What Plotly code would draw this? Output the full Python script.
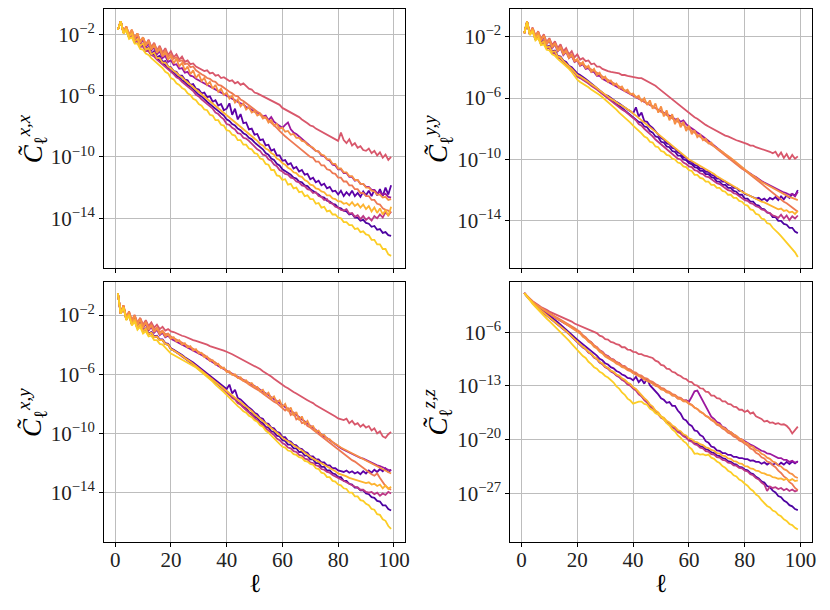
import plotly.graph_objects as go

# log10(C_l), l = 1..99, one list per curve
# panel C^{x,x}
xx_i1 = [-1.7, -1.15, -1.9, -1.65, -2.2, -2.0, -2.45, -2.3, -2.7, -2.6,
         -2.95, -2.85, -3.25, -3.1, -3.5, -3.4, -3.8, -3.75, -4.1, -4.15,
         -4.4, -4.45, -4.7, -4.7, -4.95, -5.0, -5.3, -5.25, -5.55, -5.6,
         -5.85, -5.8, -6.1, -6.05, -6.4, -6.3, -6.65, -6.55, -6.95, -6.85,
         -6.5, -7.25, -6.85, -7.55, -7.2, -7.8, -7.75, -8.2, -8.15, -8.55,
         -8.5, -8.9, -8.85, -9.25, -9.2, -9.6, -9.5, -9.9, -9.9, -10.25,
         -10.2, -10.5, -10.4, -10.75, -10.65, -10.95, -10.85, -11.15, -11.1, -11.45,
         -11.35, -11.65, -11.55, -11.85, -11.75, -12.05, -11.95, -12.25, -12.2, -12.45,
         -12.2, -12.55, -12.3, -12.5, -12.2, -12.55, -12.35, -12.6, -12.25, -12.5,
         -12.2, -12.55, -12.15, -12.5, -12.1, -12.55, -12.0, -12.45, -11.85]
xx_i2 = [-1.7, -1.15, -1.9, -1.7, -2.2, -2.1, -2.5, -2.45, -2.8, -2.75,
         -3.05, -3.05, -3.35, -3.3, -3.6, -3.7, -3.9, -4.0, -4.2, -4.4,
         -4.5, -4.7, -4.8, -5.0, -5.1, -5.3, -5.4, -5.6, -5.75, -5.95,
         -6.05, -6.25, -6.4, -6.55, -6.7, -6.9, -7.0, -7.2, -7.3, -7.55,
         -7.65, -7.85, -7.95, -8.15, -8.25, -8.45, -8.55, -8.75, -8.85, -9.05,
         -9.2, -9.4, -9.5, -9.75, -9.85, -10.1, -10.2, -10.45, -10.55, -10.8,
         -10.9, -11.05, -11.15, -11.35, -11.4, -11.6, -11.65, -11.85, -11.9, -12.1,
         -12.2, -12.35, -12.45, -12.6, -12.65, -12.85, -12.9, -13.05, -13.1, -13.3,
         -13.35, -13.5, -13.55, -13.75, -13.7, -13.95, -13.95, -14.15, -14.1, -14.3,
         -14.35, -14.55, -14.5, -14.75, -14.7, -14.95, -14.9, -15.1, -15.15]
xx_p = [-1.7, -1.15, -1.9, -1.6, -2.15, -1.85, -2.4, -2.1, -2.6, -2.35,
        -2.85, -2.6, -3.05, -2.85, -3.3, -3.1, -3.55, -3.4, -3.8, -3.7,
        -4.0, -3.95, -4.25, -4.2, -4.5, -4.45, -4.7, -4.75, -4.9, -5.0,
        -5.1, -5.15, -5.3, -5.35, -5.5, -5.55, -5.65, -5.8, -5.85, -6.0,
        -6.1, -6.2, -6.3, -6.4, -6.5, -6.55, -6.75, -6.8, -6.95, -7.05,
        -7.1, -7.25, -7.35, -7.3, -7.6, -7.4, -7.7, -7.85, -7.95, -8.1,
        -7.9, -7.75, -8.2, -8.4, -8.5, -8.65, -8.8, -8.95, -9.1, -9.3,
        -9.4, -9.6, -9.65, -9.9, -9.95, -10.15, -10.25, -10.5, -10.55, -10.8,
        -10.8, -11.05, -11.05, -11.3, -11.3, -11.55, -11.5, -11.75, -11.75, -11.95,
        -11.95, -12.15, -12.15, -12.35, -12.3, -12.45, -12.4, -12.6, -12.65]
xx_m = [-1.7, -1.15, -1.9, -1.65, -2.2, -2.05, -2.5, -2.45, -2.8, -2.8,
        -3.1, -3.1, -3.35, -3.45, -3.65, -3.8, -3.95, -4.1, -4.3, -4.45,
        -4.6, -4.8, -4.9, -5.1, -5.25, -5.4, -5.6, -5.7, -5.95, -6.05,
        -6.25, -6.4, -6.55, -6.75, -6.85, -7.1, -7.2, -7.4, -7.55, -7.85,
        -7.9, -8.1, -8.2, -8.45, -8.5, -8.75, -8.8, -8.95, -9.15, -9.3,
        -9.5, -9.6, -9.85, -9.9, -10.15, -10.25, -10.5, -10.6, -10.85, -10.95,
        -11.1, -11.15, -11.35, -11.4, -11.6, -11.65, -11.85, -11.9, -12.1, -12.15,
        -12.35, -12.3, -12.55, -12.6, -12.8, -12.75, -13.0, -13.05, -13.25, -13.3,
        -13.45, -13.5, -13.4, -13.7, -13.65, -13.9, -13.8, -14.05, -13.85, -14.1,
        -13.95, -14.15, -13.85, -14.0, -13.75, -13.95, -13.6, -13.8, -13.55]
xx_d = [-1.7, -1.15, -1.85, -1.5, -2.05, -1.75, -2.3, -1.95, -2.5, -2.2,
        -2.7, -2.35, -2.85, -2.55, -3.05, -2.75, -3.2, -2.9, -3.35, -3.1,
        -3.5, -3.3, -3.65, -3.45, -3.8, -3.7, -3.95, -3.9, -4.1, -4.2,
        -4.25, -4.4, -4.35, -4.55, -4.5, -4.7, -4.65, -4.85, -4.8, -4.95,
        -5.05, -5.0, -5.2, -5.1, -5.3, -5.2, -5.4, -5.55, -5.6, -5.8,
        -5.85, -5.95, -6.05, -6.1, -6.25, -6.3, -6.45, -6.55, -6.6, -6.8,
        -6.9, -6.95, -7.1, -7.2, -7.3, -7.4, -7.55, -7.65, -7.8, -7.95,
        -8.0, -8.15, -8.25, -8.3, -8.45, -8.55, -8.6, -8.75, -8.8, -8.95,
        -8.4, -8.9, -9.1, -8.85, -9.25, -9.1, -9.4, -9.3, -9.55, -9.6,
        -9.45, -9.75, -9.6, -9.9, -9.7, -10.05, -9.85, -10.2, -10.0]
xx_s = [-1.7, -1.15, -1.85, -1.5, -2.0, -1.7, -2.25, -1.95, -2.45, -2.2,
        -2.65, -2.4, -2.85, -2.6, -3.05, -2.85, -3.25, -3.05, -3.45, -3.3,
        -3.6, -3.5, -3.75, -3.7, -3.95, -3.9, -4.15, -4.1, -4.35, -4.5,
        -4.6, -4.7, -4.85, -4.9, -5.05, -5.1, -5.3, -5.35, -5.5, -5.6,
        -5.75, -5.85, -6.0, -6.05, -6.25, -6.35, -6.5, -6.6, -6.75, -6.9,
        -7.05, -7.15, -7.35, -7.45, -7.6, -7.8, -7.95, -8.1, -8.3, -8.5,
        -8.65, -8.8, -8.95, -9.15, -9.25, -9.45, -9.55, -9.75, -9.85, -10.0,
        -10.05, -10.3, -10.3, -10.55, -10.55, -10.8, -10.85, -11.05, -11.1, -11.35,
        -11.35, -11.6, -11.6, -11.85, -11.85, -12.1, -12.1, -12.35, -12.35, -12.55,
        -12.55, -12.8, -12.8, -13.05, -13.1, -13.35, -13.45, -13.5, -13.65]
xx_o1 = [-1.7, -1.15, -1.85, -1.5, -2.05, -1.7, -2.3, -1.95, -2.55, -2.2,
         -2.75, -2.45, -3.0, -2.7, -3.2, -2.95, -3.45, -3.15, -3.65, -3.4,
         -3.9, -3.6, -4.1, -3.85, -4.35, -4.1, -4.6, -4.35, -4.85, -4.6,
         -5.05, -4.85, -5.3, -5.1, -5.55, -5.3, -5.75, -5.55, -5.95, -5.8,
         -6.2, -6.0, -6.45, -6.25, -6.7, -6.5, -6.9, -6.75, -7.1, -7.0,
         -7.3, -7.2, -7.5, -7.4, -7.75, -7.6, -7.95, -7.85, -8.15, -8.1,
         -8.35, -8.3, -8.55, -8.5, -8.75, -8.75, -8.95, -9.0, -9.2, -9.3,
         -9.4, -9.6, -9.65, -9.85, -9.9, -10.15, -10.15, -10.45, -10.45, -10.75,
         -10.75, -11.0, -11.0, -11.25, -11.25, -11.5, -11.5, -11.75, -11.75, -12.0,
         -12.0, -12.2, -12.25, -12.45, -12.45, -12.65, -12.6, -12.8, -12.75]
xx_o2 = [-1.7, -1.15, -1.9, -1.6, -2.15, -1.95, -2.45, -2.3, -2.75, -2.6,
         -3.0, -2.9, -3.3, -3.2, -3.55, -3.55, -3.85, -3.85, -4.1, -4.2,
         -4.4, -4.5, -4.7, -4.8, -5.0, -5.15, -5.3, -5.45, -5.6, -5.8,
         -5.95, -6.05, -6.25, -6.35, -6.55, -6.65, -6.85, -6.95, -7.15, -7.3,
         -7.45, -7.55, -7.75, -7.85, -8.05, -8.15, -8.35, -8.45, -8.65, -8.8,
         -8.95, -9.15, -9.25, -9.45, -9.55, -9.75, -9.85, -10.1, -10.2, -10.4,
         -10.5, -10.7, -10.8, -11.0, -11.05, -11.25, -11.3, -11.5, -11.6, -11.8,
         -11.85, -12.05, -12.1, -12.25, -12.3, -12.5, -12.5, -12.7, -12.75, -12.9,
         -12.9, -13.05, -13.0, -13.15, -12.95, -13.2, -13.05, -13.3, -13.1, -13.4,
         -13.2, -13.55, -13.3, -13.65, -13.35, -13.75, -13.45, -13.85, -13.25]
xx_y = [-1.7, -1.15, -1.95, -1.75, -2.3, -2.2, -2.6, -2.6, -2.95, -3.0,
        -3.25, -3.35, -3.55, -3.7, -3.85, -4.05, -4.2, -4.45, -4.55, -4.85,
        -4.95, -5.2, -5.3, -5.5, -5.6, -5.85, -5.95, -6.2, -6.3, -6.55,
        -6.65, -6.9, -6.95, -7.25, -7.3, -7.6, -7.6, -7.9, -7.95, -8.25,
        -8.3, -8.55, -8.6, -8.9, -8.9, -9.2, -9.2, -9.45, -9.5, -9.75,
        -9.8, -10.1, -10.15, -10.45, -10.5, -10.85, -10.85, -11.2, -11.25, -11.5,
        -11.45, -11.8, -11.75, -12.05, -12.0, -12.3, -12.25, -12.55, -12.5, -12.75,
        -12.75, -13.05, -13.0, -13.3, -13.25, -13.55, -13.5, -13.75, -13.75, -13.95,
        -14.0, -14.25, -14.25, -14.45, -14.45, -14.7, -14.65, -14.9, -14.85, -15.05,
        -15.1, -15.4, -15.4, -15.7, -15.7, -16.0, -16.0, -16.35, -16.45]

# panel C^{y,y}
yy_i1 = [-1.78, -1.02, -1.85, -1.55, -2.15, -1.9, -2.4, -2.25, -2.65, -2.6,
         -2.95, -2.9, -3.25, -3.3, -3.55, -3.65, -3.9, -4.0, -4.2, -4.4,
         -4.5, -4.6, -4.75, -4.9, -5.05, -5.15, -5.3, -5.45, -5.6, -5.8,
         -5.85, -6.0, -6.1, -6.25, -6.35, -6.5, -6.6, -6.75, -6.85, -7.0,
         -6.6, -7.2, -6.95, -7.5, -7.55, -7.8, -7.95, -8.15, -8.35, -8.6,
         -8.7, -8.95, -9.0, -9.25, -9.3, -9.55, -9.6, -9.85, -9.9, -10.15,
         -10.15, -10.35, -10.4, -10.6, -10.6, -10.8, -10.8, -11.0, -11.05, -11.25,
         -11.25, -11.45, -11.45, -11.65, -11.65, -11.85, -11.85, -12.05, -12.05, -12.25,
         -12.3, -12.4, -12.45, -12.55, -12.5, -12.65, -12.55, -12.7, -12.5, -12.6,
         -12.45, -12.65, -12.4, -12.6, -12.35, -12.5, -12.25, -12.35, -12.0]
yy_i2 = [-1.78, -1.02, -1.85, -1.6, -2.2, -2.0, -2.5, -2.4, -2.75, -2.7,
         -3.05, -3.05, -3.35, -3.4, -3.65, -3.75, -3.95, -4.1, -4.3, -4.55,
         -4.65, -4.75, -4.9, -5.0, -5.15, -5.25, -5.4, -5.55, -5.7, -5.85,
         -6.0, -6.1, -6.25, -6.4, -6.5, -6.65, -6.8, -6.9, -7.05, -7.2,
         -7.35, -7.55, -7.6, -7.85, -7.9, -8.15, -8.25, -8.5, -8.55, -8.85,
         -8.9, -9.15, -9.2, -9.45, -9.5, -9.75, -9.75, -10.0, -10.05, -10.25,
         -10.3, -10.5, -10.55, -10.75, -10.75, -10.95, -10.95, -11.15, -11.2, -11.45,
         -11.45, -11.65, -11.65, -11.85, -11.85, -12.05, -12.1, -12.3, -12.3, -12.55,
         -12.55, -12.75, -12.75, -12.95, -13.0, -13.2, -13.25, -13.45, -13.5, -13.75,
         -13.75, -14.0, -14.0, -14.2, -14.25, -14.45, -14.45, -14.7, -14.8]
yy_p = [-1.78, -1.02, -1.85, -1.5, -2.05, -1.75, -2.3, -2.0, -2.5, -2.25,
        -2.75, -2.5, -2.95, -2.75, -3.2, -3.0, -3.4, -3.25, -3.65, -3.55,
        -3.9, -3.8, -4.1, -4.05, -4.3, -4.3, -4.55, -4.55, -4.75, -4.85,
        -4.95, -5.05, -5.15, -5.25, -5.35, -5.45, -5.55, -5.65, -5.75, -5.85,
        -5.95, -6.05, -6.15, -6.25, -6.35, -6.45, -6.55, -6.65, -6.75, -6.85,
        -6.95, -7.05, -7.15, -7.2, -7.4, -7.35, -7.55, -7.45, -7.7, -7.85,
        -7.95, -8.1, -8.25, -8.35, -8.5, -8.65, -8.8, -8.9, -9.05, -9.2,
        -9.35, -9.5, -9.65, -9.8, -9.95, -10.1, -10.25, -10.4, -10.55, -10.7,
        -10.8, -10.95, -11.05, -11.15, -11.3, -11.4, -11.5, -11.6, -11.7, -11.8,
        -11.9, -12.0, -12.05, -12.15, -12.2, -12.3, -12.25, -12.4, -12.1]
yy_m = [-1.78, -1.02, -1.85, -1.6, -2.2, -2.0, -2.5, -2.4, -2.75, -2.75,
        -3.05, -3.1, -3.35, -3.45, -3.65, -3.8, -4.0, -4.15, -4.35, -4.6,
        -4.7, -4.8, -4.95, -5.05, -5.2, -5.3, -5.45, -5.6, -5.75, -5.9,
        -6.05, -6.2, -6.3, -6.45, -6.6, -6.75, -6.85, -7.0, -7.15, -7.3,
        -7.45, -7.7, -7.8, -8.0, -8.15, -8.35, -8.5, -8.7, -8.85, -9.05,
        -9.15, -9.35, -9.45, -9.65, -9.75, -9.95, -10.0, -10.2, -10.3, -10.45,
        -10.5, -10.7, -10.75, -10.9, -10.95, -11.1, -11.15, -11.3, -11.4, -11.55,
        -11.6, -11.75, -11.85, -12.0, -12.05, -12.2, -12.25, -12.4, -12.5, -12.65,
        -12.7, -12.85, -12.9, -13.05, -13.1, -13.25, -13.3, -13.45, -13.5, -13.65,
        -13.7, -13.8, -13.6, -13.85, -13.65, -13.95, -13.7, -13.85, -13.65]
yy_d = [-1.78, -1.02, -1.8, -1.4, -1.95, -1.65, -2.15, -1.85, -2.35, -2.1,
        -2.55, -2.3, -2.75, -2.5, -2.95, -2.75, -3.15, -2.95, -3.35, -3.15,
        -3.5, -3.4, -3.6, -3.55, -3.8, -3.75, -3.95, -3.95, -4.1, -4.2,
        -4.25, -4.3, -4.35, -4.4, -4.4, -4.5, -4.5, -4.55, -4.6, -4.6,
        -4.65, -4.7, -4.7, -4.8, -4.85, -4.95, -5.05, -5.2, -5.35, -5.5,
        -5.65, -5.8, -5.95, -6.1, -6.25, -6.4, -6.55, -6.7, -6.85, -7.0,
        -7.1, -7.25, -7.35, -7.5, -7.6, -7.75, -7.85, -7.95, -8.1, -8.2,
        -8.3, -8.35, -8.45, -8.5, -8.6, -8.65, -8.75, -8.8, -8.85, -8.95,
        -9.0, -9.1, -9.1, -9.2, -9.25, -9.3, -9.4, -9.45, -9.5, -9.6,
        -9.5, -9.8, -9.55, -9.9, -9.65, -10.0, -9.7, -9.95, -9.8]
yy_s = [-1.78, -1.02, -1.8, -1.45, -1.95, -1.7, -2.2, -1.9, -2.4, -2.15,
        -2.65, -2.4, -2.85, -2.65, -3.05, -2.9, -3.25, -3.15, -3.5, -3.6,
        -3.7, -3.8, -3.9, -4.0, -4.1, -4.25, -4.35, -4.45, -4.6, -4.7,
        -4.8, -4.95, -5.05, -5.15, -5.25, -5.4, -5.5, -5.6, -5.7, -5.8,
        -5.9, -6.0, -6.1, -6.25, -6.35, -6.45, -6.55, -6.65, -6.8, -6.9,
        -7.0, -7.1, -7.2, -7.35, -7.45, -7.55, -7.65, -7.75, -7.9, -8.0,
        -8.15, -8.25, -8.4, -8.5, -8.65, -8.8, -8.9, -9.05, -9.15, -9.3,
        -9.45, -9.6, -9.75, -9.9, -10.05, -10.15, -10.3, -10.45, -10.6, -10.7,
        -10.85, -11.0, -11.15, -11.3, -11.45, -11.6, -11.75, -11.9, -12.05, -12.2,
        -12.35, -12.5, -12.6, -12.75, -12.85, -13.0, -13.1, -13.25, -13.4]
yy_o1 = [-1.78, -1.02, -1.8, -1.45, -2.0, -1.7, -2.25, -1.95, -2.5, -2.2,
         -2.7, -2.45, -2.95, -2.7, -3.15, -2.95, -3.4, -3.2, -3.6, -3.45,
         -3.85, -3.65, -4.05, -3.9, -4.3, -4.1, -4.5, -4.35, -4.75, -4.6,
         -4.95, -4.85, -5.15, -5.05, -5.35, -5.25, -5.55, -5.45, -5.75, -5.7,
         -5.95, -5.85, -6.2, -6.0, -6.45, -6.15, -6.7, -6.35, -6.95, -6.55,
         -7.2, -6.8, -7.45, -7.05, -7.7, -7.3, -7.9, -7.55, -8.15, -7.8,
         -8.35, -8.1, -8.55, -8.4, -8.75, -8.65, -8.95, -8.9, -9.15, -9.25,
         -9.4, -9.5, -9.65, -9.75, -9.9, -10.05, -10.2, -10.35, -10.5, -10.7,
         -10.8, -10.95, -11.05, -11.2, -11.3, -11.45, -11.55, -11.65, -11.8, -11.9,
         -12.0, -12.1, -12.2, -12.3, -12.35, -12.45, -12.5, -12.6, -12.65]
yy_o2 = [-1.78, -1.02, -1.85, -1.55, -2.15, -1.9, -2.45, -2.3, -2.7, -2.65,
         -3.0, -2.95, -3.3, -3.35, -3.6, -3.75, -3.95, -4.1, -4.3, -4.5,
         -4.6, -4.7, -4.85, -4.95, -5.1, -5.2, -5.35, -5.5, -5.65, -5.8,
         -5.9, -6.05, -6.15, -6.3, -6.4, -6.5, -6.6, -6.75, -6.85, -7.0,
         -7.15, -7.3, -7.45, -7.6, -7.75, -7.9, -8.05, -8.2, -8.4, -8.55,
         -8.7, -8.85, -9.0, -9.15, -9.3, -9.45, -9.6, -9.7, -9.85, -10.0,
         -10.1, -10.2, -10.3, -10.45, -10.55, -10.65, -10.75, -10.85, -10.95, -11.1,
         -11.2, -11.3, -11.4, -11.55, -11.65, -11.75, -11.85, -11.95, -12.1, -12.2,
         -12.3, -12.4, -12.5, -12.55, -12.65, -12.75, -12.8, -12.9, -13.0, -13.1,
         -13.15, -13.25, -13.2, -13.35, -13.3, -13.45, -13.4, -13.55, -13.35]
yy_y = [-1.78, -1.02, -1.9, -1.65, -2.25, -2.1, -2.55, -2.5, -2.85, -2.9,
        -3.15, -3.25, -3.45, -3.6, -3.75, -3.95, -4.1, -4.3, -4.55, -4.8,
        -4.95, -5.05, -5.2, -5.3, -5.45, -5.55, -5.7, -5.8, -5.95, -6.1,
        -6.25, -6.4, -6.6, -6.75, -6.95, -7.1, -7.3, -7.45, -7.6, -7.8,
        -7.95, -8.15, -8.3, -8.5, -8.6, -8.85, -8.9, -9.15, -9.2, -9.45,
        -9.5, -9.7, -9.75, -9.95, -10.0, -10.2, -10.25, -10.45, -10.5, -10.7,
        -10.75, -11.0, -11.0, -11.2, -11.25, -11.45, -11.45, -11.65, -11.65, -11.85,
        -11.85, -12.05, -12.1, -12.3, -12.3, -12.5, -12.5, -12.7, -12.75, -12.95,
        -13.0, -13.25, -13.3, -13.55, -13.6, -13.85, -13.9, -14.15, -14.2, -14.45,
        -14.6, -14.8, -15.0, -15.2, -15.4, -15.6, -15.85, -16.05, -16.35]

# panel C^{x,y}
xy_i1 = [-0.54, -1.9, -1.45, -2.3, -1.95, -2.6, -2.3, -2.85, -2.6, -3.05,
         -2.9, -3.25, -3.15, -3.45, -3.4, -3.65, -3.65, -3.9, -3.95, -4.25,
         -4.35, -4.45, -4.6, -4.7, -4.85, -4.95, -5.1, -5.2, -5.35, -5.5,
         -5.65, -5.8, -5.95, -6.1, -6.25, -6.4, -6.55, -6.7, -6.85, -7.0,
         -6.7, -7.3, -7.05, -7.6, -7.7, -7.9, -8.05, -8.25, -8.4, -8.6,
         -8.7, -8.95, -9.0, -9.3, -9.35, -9.6, -9.65, -9.9, -9.95, -10.25,
         -10.25, -10.5, -10.55, -10.75, -10.8, -11.0, -11.05, -11.25, -11.3, -11.55,
         -11.55, -11.75, -11.75, -11.95, -11.95, -12.15, -12.15, -12.35, -12.35, -12.5,
         -12.55, -12.6, -12.5, -12.65, -12.55, -12.7, -12.6, -12.75, -12.55, -12.7,
         -12.5, -12.65, -12.45, -12.6, -12.4, -12.55, -12.35, -12.6, -12.45]
xy_i2 = [-0.54, -1.9, -1.45, -2.3, -2.0, -2.6, -2.35, -2.9, -2.6, -3.1,
         -2.95, -3.3, -3.2, -3.5, -3.45, -3.7, -3.7, -3.95, -4.0, -4.3,
         -4.4, -4.5, -4.65, -4.75, -4.9, -5.05, -5.15, -5.3, -5.45, -5.6,
         -5.75, -5.9, -6.05, -6.2, -6.4, -6.55, -6.7, -6.85, -7.0, -7.15,
         -7.35, -7.55, -7.65, -7.9, -8.0, -8.2, -8.3, -8.55, -8.65, -8.85,
         -8.95, -9.2, -9.3, -9.55, -9.6, -9.85, -9.9, -10.15, -10.2, -10.45,
         -10.5, -10.75, -10.75, -11.0, -11.0, -11.25, -11.25, -11.5, -11.5, -11.75,
         -11.75, -12.0, -12.0, -12.25, -12.25, -12.5, -12.5, -12.7, -12.75, -12.95,
         -12.95, -13.2, -13.2, -13.4, -13.45, -13.65, -13.65, -13.85, -13.85, -14.05,
         -14.1, -14.3, -14.35, -14.55, -14.6, -14.85, -14.85, -15.1, -15.2]
xy_p = [-0.54, -1.9, -1.4, -2.25, -1.9, -2.5, -2.15, -2.7, -2.4, -2.9,
        -2.6, -3.05, -2.8, -3.2, -3.0, -3.35, -3.2, -3.5, -3.4, -3.6,
        -3.7, -3.8, -3.9, -4.0, -4.1, -4.2, -4.25, -4.35, -4.45, -4.55,
        -4.7, -4.8, -4.95, -5.05, -5.2, -5.3, -5.45, -5.55, -5.7, -5.8,
        -5.9, -5.95, -6.05, -6.15, -6.25, -6.35, -6.45, -6.55, -6.65, -6.8,
        -6.9, -7.05, -7.15, -7.3, -7.4, -7.55, -7.65, -7.8, -7.95, -8.1,
        -8.2, -8.35, -8.5, -8.6, -8.75, -8.9, -9.05, -9.2, -9.35, -9.5,
        -9.6, -9.75, -9.9, -10.05, -10.2, -10.3, -10.45, -10.6, -10.75, -10.9,
        -11.0, -11.1, -11.2, -11.3, -11.4, -11.45, -11.55, -11.65, -11.7, -11.8,
        -11.9, -11.95, -12.05, -12.15, -12.2, -12.3, -12.35, -12.45, -12.5]
xy_m = [-0.54, -1.9, -1.45, -2.3, -2.0, -2.65, -2.35, -2.9, -2.65, -3.1,
        -2.95, -3.3, -3.2, -3.5, -3.45, -3.7, -3.7, -3.95, -4.0, -4.3,
        -4.4, -4.5, -4.65, -4.8, -4.9, -5.05, -5.2, -5.3, -5.45, -5.6,
        -5.75, -5.95, -6.1, -6.25, -6.4, -6.55, -6.7, -6.85, -7.05, -7.2,
        -7.4, -7.6, -7.7, -7.95, -8.05, -8.25, -8.4, -8.6, -8.75, -8.95,
        -9.1, -9.3, -9.45, -9.65, -9.8, -10.0, -10.1, -10.35, -10.45, -10.65,
        -10.75, -10.95, -11.0, -11.2, -11.25, -11.45, -11.5, -11.7, -11.75, -11.95,
        -12.0, -12.15, -12.2, -12.4, -12.45, -12.6, -12.65, -12.8, -12.9, -13.05,
        -13.1, -13.25, -13.3, -13.45, -13.5, -13.6, -13.65, -13.8, -13.8, -13.95,
        -14.0, -13.95, -14.1, -14.0, -14.2, -14.05, -14.15, -13.95, -14.05]
xy_d = [-0.54, -1.9, -1.35, -2.2, -1.8, -2.4, -2.0, -2.55, -2.2, -2.65,
        -2.35, -2.75, -2.5, -2.85, -2.65, -2.95, -2.8, -3.05, -2.95, -3.1,
        -3.15, -3.25, -3.3, -3.4, -3.45, -3.55, -3.6, -3.7, -3.75, -3.8,
        -3.9, -3.95, -4.0, -4.1, -4.15, -4.2, -4.3, -4.35, -4.4, -4.48,
        -4.55, -4.65, -4.75, -4.85, -4.9, -5.0, -5.1, -5.2, -5.3, -5.4,
        -5.55, -5.65, -5.8, -5.9, -6.05, -6.15, -6.3, -6.45, -6.6, -6.73,
        -6.85, -6.95, -7.1, -7.2, -7.3, -7.4, -7.55, -7.65, -7.75, -7.86,
        -7.95, -8.1, -8.2, -8.3, -8.45, -8.55, -8.65, -8.75, -8.85, -8.98,
        -9.05, -9.1, -9.0, -9.3, -9.15, -9.4, -9.3, -9.55, -9.4, -9.6,
        -9.5, -9.8, -9.65, -10.0, -9.85, -10.2, -10.3, -10.05, -9.9]
xy_s = [-0.54, -1.9, -1.35, -2.15, -1.75, -2.35, -2.0, -2.55, -2.2, -2.7,
        -2.45, -2.85, -2.65, -3.0, -2.85, -3.15, -3.05, -3.3, -3.25, -3.45,
        -3.55, -3.65, -3.75, -3.85, -3.95, -4.05, -4.15, -4.25, -4.35, -4.48,
        -4.6, -4.7, -4.85, -4.95, -5.1, -5.2, -5.35, -5.5, -5.65, -5.8,
        -5.9, -6.0, -6.1, -6.25, -6.35, -6.45, -6.55, -6.7, -6.8, -6.9,
        -7.05, -7.15, -7.3, -7.45, -7.55, -7.7, -7.85, -7.95, -8.1, -8.25,
        -8.45, -8.3, -8.75, -8.6, -9.05, -8.95, -9.3, -9.25, -9.5, -9.6,
        -9.75, -9.9, -10.05, -10.2, -10.35, -10.5, -10.6, -10.75, -10.9, -11.05,
        -11.2, -11.35, -11.5, -11.65, -11.8, -11.9, -12.05, -12.2, -12.35, -12.5,
        -12.6, -12.75, -12.85, -12.7, -13.0, -13.3, -13.55, -13.7, -13.8]
xy_o1 = [-0.54, -1.9, -1.35, -2.2, -1.8, -2.45, -2.05, -2.65, -2.3, -2.85,
         -2.5, -3.0, -2.7, -3.15, -2.9, -3.3, -3.1, -3.45, -3.3, -3.6,
         -3.5, -3.8, -3.7, -4.0, -3.9, -4.2, -4.1, -4.4, -4.3, -4.6,
         -4.55, -4.85, -4.8, -5.1, -5.05, -5.35, -5.3, -5.6, -5.55, -5.85,
         -5.8, -6.05, -6.0, -6.25, -6.2, -6.45, -6.4, -6.65, -6.6, -6.85,
         -6.85, -7.15, -7.05, -7.4, -7.25, -7.65, -7.5, -7.9, -7.75, -8.2,
         -8.0, -8.5, -8.25, -8.8, -8.55, -9.1, -8.85, -9.35, -9.15, -9.55,
         -9.5, -9.85, -9.8, -10.1, -10.1, -10.35, -10.4, -10.6, -10.7, -10.85,
         -10.95, -11.05, -11.15, -11.25, -11.35, -11.45, -11.55, -11.65, -11.75, -11.85,
         -11.95, -12.05, -12.15, -12.25, -12.35, -12.45, -12.55, -12.6, -12.7]
xy_o2 = [-0.54, -1.9, -1.45, -2.3, -1.95, -2.6, -2.3, -2.85, -2.6, -3.1,
         -2.9, -3.3, -3.2, -3.5, -3.45, -3.7, -3.7, -3.95, -4.0, -4.3,
         -4.4, -4.5, -4.65, -4.75, -4.9, -5.0, -5.15, -5.3, -5.45, -5.6,
         -5.75, -5.9, -6.05, -6.2, -6.35, -6.5, -6.65, -6.8, -6.95, -7.1,
         -7.25, -7.4, -7.55, -7.7, -7.85, -8.0, -8.15, -8.35, -8.5, -8.7,
         -8.85, -9.0, -9.15, -9.3, -9.5, -9.65, -9.8, -9.95, -10.1, -10.3,
         -10.4, -10.55, -10.65, -10.8, -10.9, -11.05, -11.15, -11.3, -11.45, -11.6,
         -11.7, -11.8, -11.9, -12.0, -12.1, -12.2, -12.3, -12.45, -12.55, -12.7,
         -12.75, -12.85, -12.9, -13.0, -13.05, -13.1, -13.2, -13.25, -13.3, -13.35,
         -13.3, -13.45, -13.4, -13.55, -13.45, -13.7, -13.5, -13.75, -13.6]
xy_y = [-0.54, -1.9, -1.5, -2.35, -2.05, -2.7, -2.45, -3.0, -2.8, -3.25,
        -3.1, -3.45, -3.4, -3.7, -3.7, -3.95, -4.0, -4.2, -4.35, -4.6,
        -4.7, -4.8, -4.9, -5.0, -5.1, -5.2, -5.3, -5.45, -5.55, -5.7,
        -5.85, -6.0, -6.15, -6.35, -6.5, -6.7, -6.85, -7.05, -7.2, -7.4,
        -7.6, -7.8, -7.95, -8.15, -8.3, -8.5, -8.6, -8.8, -8.9, -9.1,
        -9.2, -9.45, -9.55, -9.8, -9.95, -10.15, -10.3, -10.55, -10.7, -10.9,
        -10.95, -11.15, -11.2, -11.4, -11.45, -11.6, -11.65, -11.85, -11.9, -12.05,
        -12.1, -12.35, -12.4, -12.65, -12.7, -12.95, -12.95, -13.2, -13.25, -13.45,
        -13.5, -13.7, -13.75, -14.0, -14.0, -14.25, -14.25, -14.5, -14.55, -14.75,
        -14.85, -15.1, -15.15, -15.45, -15.5, -15.8, -15.9, -16.25, -16.45]

# panel C^{z,z}
zz_i1 = [-0.9, -1.35, -1.8, -2.15, -2.5, -2.8, -3.1, -3.35, -3.6, -3.85,
         -4.1, -4.4, -4.7, -5.0, -5.35, -5.65, -6.0, -6.3, -6.65, -6.95,
         -7.25, -7.6, -7.8, -8.2, -8.4, -8.8, -9.05, -9.45, -9.65, -10.05,
         -10.2, -10.55, -10.7, -11.05, -11.2, -11.5, -11.65, -11.95, -12.0, -12.25,
         -11.8, -12.5, -12.1, -12.7, -12.0, -12.9, -13.3, -13.6, -14.1, -14.6,
         -14.8, -15.2, -15.1, -15.6, -15.6, -16.2, -16.6, -17.3, -17.5, -18.0,
         -18.2, -18.8, -18.9, -19.4, -19.6, -20.2, -20.4, -20.9, -21.0, -21.4,
         -21.45, -21.75, -21.75, -22.0, -22.0, -22.25, -22.25, -22.4, -22.4, -22.55,
         -22.55, -22.75, -22.7, -22.9, -22.9, -23.15, -22.95, -23.25, -23.0, -23.3,
         -23.05, -23.35, -23.0, -23.25, -22.9, -23.2, -22.85, -23.1, -22.8]
zz_i2 = [-0.9, -1.35, -1.8, -2.2, -2.55, -2.85, -3.15, -3.45, -3.7, -3.95,
         -4.25, -4.55, -4.9, -5.2, -5.55, -5.85, -6.2, -6.55, -6.9, -7.25,
         -7.5, -7.95, -8.15, -8.6, -8.8, -9.25, -9.45, -9.9, -10.1, -10.5,
         -10.7, -11.05, -11.25, -11.6, -11.75, -12.15, -12.3, -12.7, -12.85, -13.25,
         -13.5, -13.95, -14.25, -14.7, -15.0, -15.5, -15.8, -16.3, -16.55, -17.05,
         -17.25, -17.65, -17.85, -18.25, -18.45, -18.85, -19.05, -19.4, -19.6, -20.0,
         -20.1, -20.45, -20.55, -20.85, -20.95, -21.25, -21.35, -21.65, -21.75, -22.05,
         -22.15, -22.4, -22.5, -22.8, -22.9, -23.15, -23.25, -23.55, -23.6, -23.9,
         -24.0, -24.35, -24.5, -24.85, -25.05, -25.45, -25.6, -26.05, -26.2, -26.65,
         -26.9, -27.35, -27.5, -27.95, -28.15, -28.55, -28.7, -29.05, -29.2]
zz_p = [-0.9, -1.35, -1.75, -2.1, -2.4, -2.7, -2.95, -3.2, -3.45, -3.7,
        -3.9, -4.1, -4.3, -4.55, -4.75, -4.95, -5.15, -5.35, -5.55, -5.8,
        -6.1, -6.45, -6.7, -7.1, -7.3, -7.75, -7.95, -8.35, -8.55, -8.95,
        -9.1, -9.45, -9.55, -9.9, -10.0, -10.35, -10.45, -10.8, -10.9, -11.25,
        -11.4, -11.65, -11.8, -12.05, -12.2, -12.45, -12.6, -12.9, -13.05, -13.35,
        -13.45, -13.8, -13.85, -14.2, -14.25, -14.6, -14.6, -14.9, -14.85, -15.05,
        -14.4, -13.7, -13.6, -14.3, -14.9, -15.6, -16.4, -17.0, -17.3, -17.7,
        -17.85, -18.35, -18.45, -18.85, -19.05, -19.35, -19.55, -19.85, -20.0, -20.25,
        -20.4, -20.65, -20.8, -21.05, -21.2, -21.45, -21.55, -21.8, -21.85, -22.05,
        -22.15, -22.4, -22.4, -22.65, -22.65, -22.9, -22.75, -23.0, -22.9]
zz_m = [-0.9, -1.35, -1.8, -2.2, -2.55, -2.9, -3.2, -3.5, -3.75, -4.0,
        -4.3, -4.6, -4.9, -5.25, -5.55, -5.9, -6.25, -6.6, -6.95, -7.3,
        -7.55, -8.0, -8.2, -8.65, -8.85, -9.3, -9.5, -9.95, -10.15, -10.55,
        -10.75, -11.1, -11.3, -11.65, -11.85, -12.2, -12.4, -12.8, -12.95, -13.35,
        -13.6, -14.1, -14.35, -14.85, -15.15, -15.65, -15.95, -16.45, -16.7, -17.15,
        -17.35, -17.8, -18.0, -18.4, -18.6, -19.0, -19.2, -19.55, -19.75, -20.15,
        -20.25, -20.6, -20.7, -21.05, -21.15, -21.5, -21.55, -21.9, -21.95, -22.3,
        -22.35, -22.65, -22.7, -23.0, -23.05, -23.35, -23.4, -23.7, -23.75, -24.05,
        -24.15, -24.5, -24.65, -25.0, -25.2, -25.6, -25.85, -26.7, -26.1, -26.3,
        -26.2, -26.45, -26.3, -26.6, -26.4, -26.7, -26.5, -26.75, -26.6]
zz_d = [-0.9, -1.3, -1.6, -1.95, -2.25, -2.45, -2.7, -2.85, -3.05, -3.3,
        -3.45, -3.6, -3.8, -3.95, -4.1, -4.3, -4.45, -4.6, -4.85, -5.0,
        -5.15, -5.35, -5.45, -5.65, -5.75, -5.95, -6.1, -6.45, -6.55, -6.9,
        -6.95, -7.25, -7.35, -7.55, -7.65, -7.95, -7.95, -8.25, -8.3, -8.55,
        -8.6, -8.85, -8.85, -9.05, -9.1, -9.25, -9.35, -9.7, -9.85, -10.25,
        -10.35, -10.75, -10.8, -11.15, -11.25, -11.55, -11.7, -12.0, -12.1, -12.45,
        -12.5, -12.85, -12.95, -13.3, -13.35, -13.75, -13.8, -14.25, -14.25, -14.6,
        -14.65, -15.0, -15.0, -15.35, -15.4, -15.7, -15.75, -16.1, -16.1, -16.4,
        -16.2, -16.6, -16.45, -16.95, -17.1, -17.3, -17.65, -17.55, -17.8, -17.75,
        -17.95, -17.85, -18.05, -18.0, -18.2, -18.6, -19.2, -18.7, -18.3]
zz_s = [-0.9, -1.3, -1.65, -2.0, -2.3, -2.55, -2.8, -3.05, -3.3, -3.5,
        -3.75, -3.95, -4.15, -4.35, -4.55, -4.75, -4.95, -5.2, -5.45, -5.7,
        -5.95, -6.4, -6.65, -7.05, -7.3, -7.7, -7.95, -8.35, -8.6, -9.0,
        -9.15, -9.45, -9.6, -9.9, -10.05, -10.35, -10.45, -10.75, -10.85, -11.15,
        -11.25, -11.55, -11.65, -11.95, -12.05, -12.35, -12.45, -12.75, -12.9, -13.25,
        -13.35, -13.65, -13.75, -14.05, -14.15, -14.45, -14.55, -14.85, -14.95, -15.25,
        -15.45, -15.8, -16.0, -16.35, -16.55, -16.9, -17.1, -17.45, -17.65, -18.05,
        -18.2, -18.55, -18.75, -19.1, -19.25, -19.6, -19.75, -20.1, -20.25, -20.55,
        -20.75, -21.15, -21.3, -21.7, -21.9, -22.3, -22.45, -22.85, -23.0, -23.35,
        -23.6, -24.05, -24.35, -24.8, -25.05, -25.55, -25.8, -26.3, -26.6]
zz_o1 = [-0.9, -1.3, -1.7, -2.05, -2.35, -2.6, -2.9, -3.15, -3.4, -3.6,
         -3.85, -4.05, -4.3, -4.45, -4.7, -4.9, -5.1, -5.35, -5.6, -5.9,
         -6.15, -6.6, -6.8, -7.25, -7.45, -7.9, -8.1, -8.55, -8.75, -9.15,
         -9.35, -9.65, -9.8, -10.1, -10.25, -10.55, -10.65, -10.95, -11.05, -11.35,
         -11.5, -11.75, -11.9, -12.15, -12.3, -12.55, -12.7, -13.0, -13.1, -13.45,
         -13.55, -13.85, -13.9, -14.25, -14.3, -14.65, -14.7, -15.0, -15.05, -15.35,
         -15.5, -15.85, -16.0, -16.35, -16.55, -16.9, -17.05, -17.4, -17.55, -17.95,
         -18.05, -18.4, -18.55, -18.9, -19.0, -19.35, -19.5, -19.85, -20.0, -20.35,
         -20.5, -20.85, -20.95, -21.35, -21.45, -21.85, -22.0, -22.35, -22.5, -22.85,
         -23.0, -23.35, -23.5, -23.85, -24.0, -24.35, -24.5, -24.85, -25.0]
zz_o2 = [-0.9, -1.35, -1.8, -2.2, -2.55, -2.85, -3.15, -3.45, -3.7, -3.95,
         -4.25, -4.55, -4.85, -5.2, -5.5, -5.85, -6.2, -6.55, -6.9, -7.2,
         -7.5, -7.9, -8.15, -8.55, -8.8, -9.2, -9.45, -9.85, -10.05, -10.45,
         -10.65, -11.0, -11.15, -11.5, -11.65, -12.0, -12.2, -12.55, -12.75, -13.15,
         -13.4, -13.85, -14.15, -14.6, -14.9, -15.4, -15.7, -16.2, -16.45, -16.95,
         -17.15, -17.55, -17.75, -18.15, -18.35, -18.75, -18.9, -19.3, -19.45, -19.85,
         -19.95, -20.25, -20.35, -20.6, -20.7, -21.0, -21.1, -21.35, -21.45, -21.75,
         -21.8, -22.1, -22.15, -22.45, -22.5, -22.8, -22.85, -23.1, -23.15, -23.45,
         -23.5, -23.75, -23.8, -24.05, -24.1, -24.35, -24.4, -24.6, -24.65, -24.9,
         -24.95, -25.1, -25.05, -25.25, -25.1, -25.35, -25.15, -25.4, -25.3]
zz_y = [-0.9, -1.4, -1.85, -2.3, -2.7, -3.1, -3.5, -3.85, -4.2, -4.55,
        -4.9, -5.25, -5.6, -5.95, -6.35, -6.7, -7.1, -7.5, -7.9, -8.3,
        -8.6, -9.1, -9.35, -9.85, -10.15, -10.55, -10.75, -11.15, -11.35, -11.7,
        -11.9, -12.25, -12.55, -13.05, -13.35, -13.85, -14.15, -14.65, -14.9, -15.3,
        -15.15, -15.05, -15.05, -15.35, -15.45, -15.95, -16.15, -16.55, -16.7, -17.05,
        -17.35, -17.85, -18.15, -18.65, -18.95, -19.45, -19.75, -20.2, -20.45, -20.95,
        -21.25, -21.85, -21.8, -21.95, -21.9, -22.05, -21.95, -22.35, -22.5, -22.85,
        -23.05, -23.45, -23.65, -24.05, -24.25, -24.65, -24.8, -25.2, -25.4, -25.75,
        -26.0, -26.45, -26.7, -27.15, -27.4, -27.9, -28.25, -28.65, -28.85, -29.25,
        -29.4, -29.8, -30.0, -30.4, -30.6, -31.0, -31.15, -31.5, -31.7]

curve_order = ["i1", "i2", "p", "m", "d", "s", "o1", "o2", "y"]
colors = {"i1": "#5c01a6", "i2": "#4c02a1", "p": "#9c179e", "m": "#bd3786",
          "d": "#d8576b", "s": "#ed7953", "o1": "#f68f44", "o2": "#fdb32f",
          "y": "#fccd25"}

panels = [
    {"curves": dict(zip(curve_order, [xx_i1, xx_i2, xx_p, xx_m, xx_d, xx_s, xx_o1, xx_o2, xx_y])),
     "label": "x,x", "yrange": [-17.24, -0.35], "yticks": [-2, -6, -10, -14]},
    {"curves": dict(zip(curve_order, [yy_i1, yy_i2, yy_p, yy_m, yy_d, yy_s, yy_o1, yy_o2, yy_y])),
     "label": "y,y", "yrange": [-17.07, -0.2], "yticks": [-2, -6, -10, -14]},
    {"curves": dict(zip(curve_order, [xy_i1, xy_i2, xy_p, xy_m, xy_d, xy_s, xy_o1, xy_o2, xy_y])),
     "label": "x,y", "yrange": [-17.33, 0.21], "yticks": [-2, -6, -10, -14]},
    {"curves": dict(zip(curve_order, [zz_i1, zz_i2, zz_p, zz_m, zz_d, zz_s, zz_o1, zz_o2, zz_y])),
     "label": "z,z", "yrange": [-33.35, 0.52], "yticks": [-6, -13, -20, -27]},
]

W, H = 830, 610
OFF = 8  # the page adds a small margin round the figure
x_dom = [[(104.7 - OFF) / W, (407.3 - OFF) / W], [(513.5 - OFF) / W, (816.5 - OFF) / W]]
y_dom = [[1 - (268 - OFF) / H, 1 - (9 - OFF) / H], [1 - (542 - OFF) / H, 1 - (282.3 - OFF) / H]]

font_name = "Liberation Serif"
fig = go.Figure()
layout = {}
annotations = []

for k, pan in enumerate(panels):
    n = k + 1
    row, col = divmod(k, 2)
    xa = "x" if n == 1 else f"x{n}"
    ya = "y" if n == 1 else f"y{n}"
    for key in curve_order:
        vals = pan["curves"][key]
        fig.add_trace(go.Scatter(
            x=list(range(1, len(vals) + 1)),
            y=[10 ** v for v in vals],
            mode="lines",
            line=dict(color=colors[key], width=1.8),
            xaxis=xa, yaxis=ya,
            showlegend=False,
            hoverinfo="skip",
        ))

    common = dict(
        showline=True, mirror=True, linecolor="black", linewidth=1.2,
        showgrid=True, gridcolor="#bdbdbd", gridwidth=1,
        ticks="outside", ticklen=4, tickwidth=1, tickcolor="black",
        zeroline=False,
        tickfont=dict(family=font_name, size=21, color="#222"),
    )
    layout["xaxis" if n == 1 else f"xaxis{n}"] = dict(
        common,
        domain=x_dom[col], anchor=ya, range=[-3.95, 103.95],
        tickvals=[0, 20, 40, 60, 80, 100],
        showticklabels=(row == 1),
        ticklabelstandoff=-5,
    )
    layout["yaxis" if n == 1 else f"yaxis{n}"] = dict(
        common,
        domain=y_dom[row], anchor=xa, type="log", range=pan["yrange"],
        tickvals=[10.0 ** t for t in pan["yticks"]],
        ticktext=[f"10<sup>\u2212{-t}</sup>" for t in pan["yticks"]],
    )

    yc = (y_dom[row][0] + y_dom[row][1]) / 2
    annotations.append(dict(
        text=f"<i>C\u0303</i><sub>\u2113</sub><sup><i>{pan['label']}</i></sup>",
        xref="paper", yref="paper",
        x=((32 if col == 0 else 440) - OFF) / W, y=yc,
        xanchor="center", yanchor="middle", textangle=-90, showarrow=False,
        font=dict(family=font_name, size=27, color="black"),
    ))
    if row == 1:
        annotations.append(dict(
            text="\u2113", xref="paper", yref="paper",
            x=(x_dom[col][0] + x_dom[col][1]) / 2, y=1 - (583 - OFF) / H,
            xanchor="center", yanchor="middle", showarrow=False,
            font=dict(family=font_name, size=26, color="black"),
        ))

fig.update_layout(
    width=W, height=H,
    margin=dict(l=0, r=0, t=0, b=0),
    paper_bgcolor="white", plot_bgcolor="white",
    annotations=annotations,
    **layout,
)

fig.write_html("out.html")
